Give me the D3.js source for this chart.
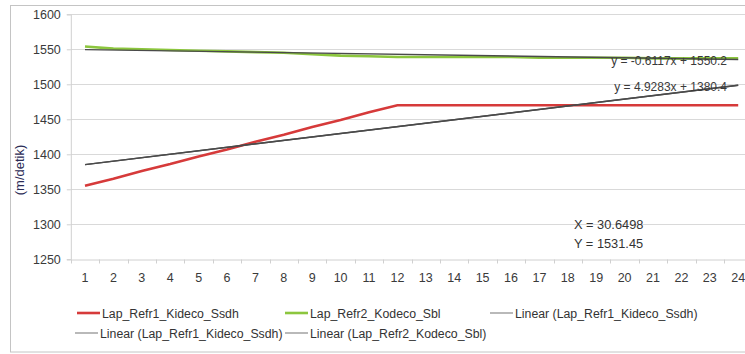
<!DOCTYPE html>
<html>
<head>
<meta charset="utf-8">
<script src="https://cdn.jsdelivr.net/npm/d3@7/dist/d3.min.js"></script>
<style>
  html, body { margin: 0; padding: 0; background: #fff; }
  svg { display: block; font-family: "Liberation Sans", Arial, sans-serif; }
</style>
</head>
<body>
<svg id="chart" width="745" height="354"></svg>
<script>
// Measurement points along the line
const categories = [1,2,3,4,5,6,7,8,9,10,11,12,13,14,15,16,17,18,19,20,21,22,23,24];

// Velocity (m/detik) for each refraction line
const refr1Values = [1355,1365,1376,1386,1397,1407,1418,1428,1439,1449,1460,1470,
                     1470,1470,1470,1470,1470,1470,1470,1470,1470,1470,1470,1470];
const refr2Values = [1554,1551,1550,1549,1548,1547,1546,1545,1543,1541,1540,1539,
                     1539,1539,1539,1539,1538,1538,1538,1538,1537,1537,1537,1537];

// Linear trend coefficients (slope, intercept)
const refr1Trend = [4.9283, 1380.4];
const refr2Trend = [-0.6117, 1550.2];

const yTicks = [1250,1300,1350,1400,1450,1500,1550,1600];
const seriesNames = ["Lap_Refr1_Kideco_Ssdh", "Lap_Refr2_Kodeco_Sbl"];
const legendRow1 = ["Lap_Refr1_Kideco_Ssdh", "Lap_Refr2_Kodeco_Sbl", "Linear (Lap_Refr1_Kideco_Ssdh)"];
const legendRow2 = ["Linear (Lap_Refr1_Kideco_Ssdh)", "Linear (Lap_Refr2_Kodeco_Sbl)"];
const equationLabels = ["y = -0.6117x + 1550.2", "y = 4.9283x + 1380.4"];
const intersectLabels = ["X = 30.6498", "Y = 1531.45"];

const svg = d3.select("#chart");

// Chart frame
svg.append("rect")
  .attr("x", 10.5).attr("y", 5.5)
  .attr("width", 760).attr("height", 346.5)
  .attr("fill", "#fff").attr("stroke", "#c4c4c4").attr("stroke-width", 1);

const x = d3.scaleBand().domain(categories).range([70.8, 752.4]);
const y = d3.scaleLinear().domain([1250, 1600]).range([259.3, 14.3]);
const cx = d => x(d) + x.bandwidth() / 2;

// Horizontal gridlines
svg.append("g").selectAll("line").data(yTicks.slice(1)).join("line")
  .attr("x1", 70.8).attr("x2", 752)
  .attr("y1", d => Math.round(y(d)) + 0.5).attr("y2", d => Math.round(y(d)) + 0.5)
  .attr("stroke", "#d9d9d9").attr("stroke-width", 1);

// Y axis
const yAxis = svg.append("g")
  .attr("transform", "translate(70.8,0)")
  .call(d3.axisLeft(y).tickValues(yTicks).tickSize(4).tickPadding(6).tickFormat(d3.format("d")));
yAxis.select(".domain").attr("stroke", "#d0d0d0");
yAxis.selectAll(".tick line").attr("stroke", "#d0d0d0");
yAxis.selectAll("text").attr("fill", "#3a3a3a").attr("font-size", 12.5);

// X axis with ticks between categories
const xAxis = svg.append("g")
  .attr("transform", `translate(0,${Math.round(y(1250)) + 0.5})`)
  .call(d3.axisBottom(x).tickSize(0).tickPadding(14));
xAxis.select(".domain").attr("stroke", "#d0d0d0");
xAxis.selectAll("text").attr("fill", "#3a3a3a").attr("font-size", 12.5);
xAxis.selectAll(".bound").data(categories).join("line")
  .attr("class", "bound")
  .attr("x1", d => Math.round(x(d)) + 0.5).attr("x2", d => Math.round(x(d)) + 0.5)
  .attr("y1", 0).attr("y2", 4)
  .attr("stroke", "#d0d0d0");

// Y axis title
svg.append("text")
  .attr("transform", `translate(24,170) rotate(-90)`)
  .attr("text-anchor", "middle")
  .attr("font-size", 13)
  .attr("fill", "#2b2b55")
  .text("(m/detik)");

const line = d3.line().x((d, i) => cx(categories[i])).y(d => y(d));

// Data series
svg.append("path").datum(refr2Values)
  .attr("d", line).attr("fill", "none")
  .attr("stroke", "#8cc63e").attr("stroke-width", 2.6);
svg.append("path").datum(refr1Values)
  .attr("d", line).attr("fill", "none")
  .attr("stroke", "#d63a3a").attr("stroke-width", 2.6);

// Linear trend lines
const trendLine = coef => d3.line()
  .x(d => cx(d)).y(d => y(coef[0] * d + coef[1]));
[refr1Trend, refr1Trend, refr2Trend].forEach(coef => {
  svg.append("path").datum([categories[0], categories[categories.length - 1]])
    .attr("d", trendLine(coef)).attr("fill", "none")
    .attr("stroke", "#4a4a4a").attr("stroke-width", 1.4);
});

// Trend equations
svg.append("g").selectAll("text").data(equationLabels).join("text")
  .attr("x", 727).attr("y", (d, i) => 65 + i * 26)
  .attr("text-anchor", "end")
  .attr("font-size", 12).attr("fill", "#3a3a3a")
  .text(d => d);

// Intersection label
svg.append("g").selectAll("text").data(intersectLabels).join("text")
  .attr("x", 574).attr("y", (d, i) => 229 + i * 19)
  .attr("font-size", 12.8).attr("fill", "#333")
  .text(d => d);

// Legend
const legendColor = name => name === seriesNames[0] ? "#d63a3a"
  : name === seriesNames[1] ? "#8cc63e" : "#8a8a8a";
const legendWidth = name => seriesNames.includes(name) ? 2.6 : 1.2;

const row1X = [77, 285, 490];
const row2X = [75, 285];
function drawLegend(names, xs, ly) {
  names.forEach((name, i) => {
    const g = svg.append("g").attr("transform", `translate(${xs[i]},${ly})`);
    g.append("line").attr("x1", 0).attr("x2", 23).attr("y1", 0).attr("y2", 0)
      .attr("stroke", legendColor(name)).attr("stroke-width", legendWidth(name));
    g.append("text").attr("x", 25).attr("y", 4.5)
      .attr("font-size", 12.3).attr("fill", "#333").text(name);
  });
}
drawLegend(legendRow1, row1X, 313);
drawLegend(legendRow2, row2X, 333);
</script>
</body>
</html>
